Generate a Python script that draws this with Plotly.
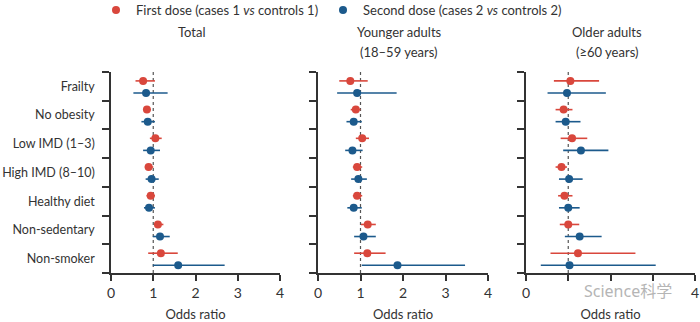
import plotly.graph_objects as go

categories = ["Frailty", "No obesity", "Low IMD (1–3)", "High IMD (8–10)",
              "Healthy diet", "Non-sedentary", "Non-smoker"]
panels = ["Total", "Younger adults", "Older adults"]
subtitles = ["", "(18–59 years)", "(≥60 years)"]

# Odds ratios with 95% CI (est, lo, hi) per panel
first_est = [
    [0.76, 0.85, 1.05, 0.89, 0.94, 1.11, 1.18],
    [0.76, 0.89, 1.04, 0.92, 0.92, 1.17, 1.16],
    [1.05, 0.89, 1.09, 0.84, 0.91, 1.00, 1.23],
]
first_lo = [
    [0.58, 0.78, 0.92, 0.80, 0.84, 1.02, 0.88],
    [0.50, 0.77, 0.89, 0.82, 0.82, 1.01, 0.85],
    [0.66, 0.70, 0.82, 0.70, 0.76, 0.80, 0.58],
]
first_hi = [
    [1.04, 0.94, 1.20, 1.00, 1.04, 1.24, 1.58],
    [1.17, 1.00, 1.20, 1.04, 1.04, 1.36, 1.59],
    [1.73, 1.10, 1.45, 0.97, 1.10, 1.26, 2.59],
]
second_est = [
    [0.83, 0.87, 0.94, 0.96, 0.90, 1.16, 1.59],
    [0.92, 0.84, 0.81, 0.95, 0.84, 1.07, 1.87],
    [0.97, 0.94, 1.30, 1.02, 1.00, 1.27, 1.03],
]
second_lo = [
    [0.53, 0.72, 0.76, 0.82, 0.78, 0.99, 0.99],
    [0.45, 0.67, 0.64, 0.78, 0.69, 0.85, 1.03],
    [0.51, 0.70, 0.88, 0.78, 0.78, 0.92, 0.35],
]
second_hi = [
    [1.34, 1.04, 1.16, 1.13, 1.04, 1.39, 2.69],
    [1.85, 1.03, 1.05, 1.15, 1.03, 1.36, 3.46],
    [1.89, 1.29, 1.95, 1.34, 1.27, 1.79, 3.07],
]
x_ticks = [0, 1, 2, 3, 4]
# in the reference, panel 3's middle tick labels are hidden under the watermark
x_ticktext = [
    ["0", "1", "2", "3", "4"],
    ["0", "1", "2", "3", "4"],
    ["0", "", "", "", "4"],
]

RED = "#d9473c"
BLUE = "#1c5a8c"
TXT = "#333333"
FONT = "Lato"
FS = 13

W, H = 700, 322
ML, MR, MT, MB = 111, 5, 72, 49
PW = W - ML - MR
PH = H - MT - MB
px_domains = [(111, 280), (318, 488), (526, 695)]
domains = [((a - ML) / PW, (b - ML) / PW) for a, b in px_domains]

n = len(categories)
y_first = [i + 0.31 for i in range(n)]
y_second = [i + 0.73 for i in range(n)]

fig = go.Figure()
series = [
    ("First dose (cases 1 <i>vs</i> controls 1)", RED, first_est, first_lo, first_hi, y_first, "legend"),
    ("Second dose (cases 2 <i>vs</i> controls 2)", BLUE, second_est, second_lo, second_hi, y_second, "legend2"),
]
for p in range(3):
    xa = "x" if p == 0 else f"x{p+1}"
    ya = "y" if p == 0 else f"y{p+1}"
    for name, col, est, lo, hi, ys, leg in series:
        e = est[p]
        fig.add_trace(go.Scatter(
            x=e, y=ys, mode="markers", name=name, legend=leg,
            marker=dict(color=col, size=8),
            error_x=dict(type="data", symmetric=False,
                         array=[h - v for h, v in zip(hi[p], e)],
                         arrayminus=[v - l for v, l in zip(e, lo[p])],
                         color=col, thickness=1.6, width=0),
            xaxis=xa, yaxis=ya, showlegend=(p == 0), hoverinfo="x+name",
        ))
    # reference line at OR = 1
    fig.add_shape(type="line", xref=xa, yref=f"{ya} domain", x0=1, x1=1, y0=0, y1=1,
                  line=dict(color="#555", width=1.2, dash="3px,3px"), layer="below")

axis_common = dict(showline=True, linecolor="#333", linewidth=1.5,
                   showgrid=False, zeroline=False, fixedrange=True)
for p in range(3):
    key = "" if p == 0 else str(p + 1)
    fig.update_layout(**{
        f"xaxis{key}": dict(domain=list(domains[p]), range=[0, 4], tickmode="array",
                            tickvals=x_ticks, ticktext=x_ticktext[p],
                            ticks="outside", ticklen=6, tickwidth=1.5, tickcolor="#333",
                            tickfont=dict(size=14, color=TXT, family=FONT),
                            title=dict(text="Odds ratio", font=dict(size=FS, color=TXT, family=FONT),
                                       standoff=10),
                            anchor="y" + key, **axis_common),
        f"yaxis{key}": dict(domain=[0, 1], range=[n, 0], tickmode="array",
                            tickvals=[i + 0.5 for i in range(n)],
                            ticktext=categories if p == 0 else [""] * n,
                            ticks="", showticklabels=(p == 0),
                            minor=dict(tickmode="array", tickvals=list(range(n + 1)),
                                       ticks="outside", ticklen=7, tickwidth=1.5, tickcolor="#333"),
                            tickfont=dict(size=12.5, color=TXT, family=FONT),
                            ticklabelstandoff=12,
                            anchor="x" + key, **axis_common),
    })

annotations = []
for p in range(3):
    cx = (domains[p][0] + domains[p][1]) / 2 - 4 / PW
    annotations.append(dict(text=panels[p], x=cx, y=1 + (MT - 32) / PH, xref="paper", yref="paper",
                            xanchor="center", yanchor="middle", showarrow=False,
                            font=dict(size=FS, color=TXT, family=FONT)))
    if subtitles[p]:
        annotations.append(dict(text=subtitles[p], x=cx, y=1 + (MT - 52) / PH, xref="paper", yref="paper",
                                xanchor="center", yanchor="middle", showarrow=False,
                                font=dict(size=FS, color=TXT, family=FONT)))
annotations.append(dict(text="Science科学", x=(582 - ML) / PW, y=-(291 - MT - PH) / PH,
                        xref="paper", yref="paper", xanchor="left", yanchor="middle",
                        showarrow=False, font=dict(size=16, color="#b5b5b5",
                                                   family="Noto Sans, Noto Sans CJK SC")))

leg_common = dict(orientation="h", y=1 + (MT - 10) / PH, xanchor="left", yanchor="middle",
                  font=dict(size=FS, color=TXT, family=FONT), itemwidth=30,
                  bgcolor="rgba(0,0,0,0)", borderwidth=0)
fig.update_layout(
    width=W, height=H, margin=dict(l=ML, r=MR, t=MT, b=MB, autoexpand=False),
    paper_bgcolor="white", plot_bgcolor="white",
    font=dict(family=FONT, size=FS, color=TXT),
    legend=dict(x=(96 - ML) / PW, **leg_common),
    legend2=dict(x=(323 - ML) / PW, **leg_common),
    annotations=annotations,
    showlegend=True,
)

fig.write_html("out.html")
